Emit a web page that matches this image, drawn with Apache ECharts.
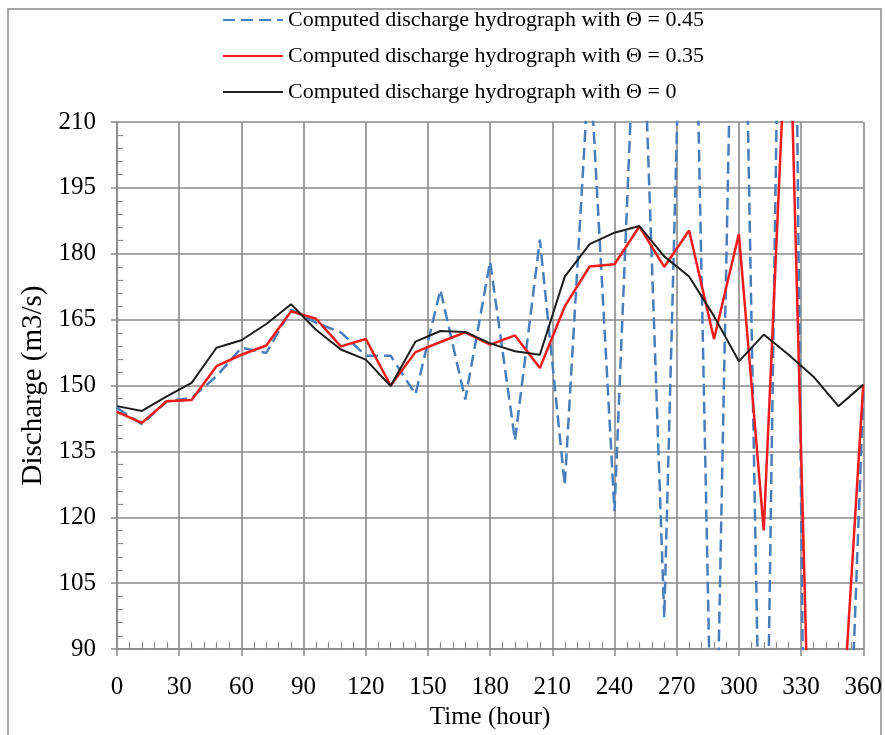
<!DOCTYPE html>
<html><head><meta charset="utf-8">
<script src="https://cdn.jsdelivr.net/npm/echarts@6/dist/echarts.min.js"></script>
<style>html,body{margin:0;padding:0;background:#fff}#c{width:885px;height:735px}</style>
</head><body><div id="c"></div>
<script>
// Time (hour)
const times = [0,12,24,36,48,60,72,84,96,108,120,132,144,156,168,180,192,204,216,228,240,252,264,276,288,300,312,324,336,348,360];
// Computed discharge, Theta = 0.45
const theta045 = [144.9,141.2,146.4,147.2,152.1,158.6,157.4,167.3,164.3,162.1,156.8,156.8,148.0,171.8,146.8,178.2,137.5,183.2,127.3,225,121.4,260,97.2,315,35,324,10,400,-150,-5,148];
// Computed discharge, Theta = 0.35
const theta035 = [144.0,141.5,146.4,146.7,154.4,157.0,159.1,166.9,165.2,158.9,160.6,150.0,157.6,159.9,162.1,159.3,161.4,154.0,168.0,177.1,177.6,186.2,177.0,185.3,160.6,184.5,117.0,245,26,58,150.2];
// Computed discharge, Theta = 0
const theta0 = [145.3,144.2,147.5,150.6,158.6,160.3,164.0,168.5,162.7,158.2,155.9,149.9,160.0,162.4,162.2,159.6,157.8,157.0,174.8,182.2,184.8,186.3,179.4,174.8,165.8,155.5,161.6,157.0,152.0,145.3,150.2];
const seriesNames = ['Computed discharge hydrograph with \u0398 = 0.45','Computed discharge hydrograph with \u0398 = 0.35','Computed discharge hydrograph with \u0398 = 0'];

const pairs = arr => times.map((t,i)=>[t,arr[i]]);
const font = 'Liberation Serif, Times New Roman, serif';
const gridColor = '#8a8a8a';

const chart = echarts.init(document.getElementById('c'), null, {renderer:'canvas'});
chart.setOption({
  animation:false,
  backgroundColor:'#fff',
  graphic:[{type:'rect', shape:{x:8,y:9,width:873,height:740}, style:{fill:'none', stroke:'#8a8a8a', lineWidth:1.5}, silent:true}],
  legend:{
    orient:'vertical', left:222, top:9, padding:0, itemGap:14,
    itemWidth:60, itemHeight:22,
    itemStyle:{opacity:0},
    textStyle:{fontFamily:font, fontSize:22, color:'#000'},
    data:seriesNames
  },
  grid:{left:117, right:19, top:122, bottom:85},
  xAxis:[{
    type:'value', position:'bottom', min:0, max:360, interval:30,
    name:'Time (hour)', nameLocation:'middle', nameGap:56,
    nameTextStyle:{fontFamily:font, fontSize:25, color:'#000'},
    axisLine:{show:true, lineStyle:{color:gridColor, width:1.5}},
    axisTick:{show:true, inside:false, length:7, lineStyle:{color:gridColor, width:1.5}},
    minorTick:{show:false},
    axisLabel:{fontFamily:font, fontSize:25, color:'#000', margin:26},
    splitLine:{show:true, lineStyle:{color:gridColor, width:1.6}}
  },{
    type:'value', position:'bottom', min:0, max:360, interval:30,
    axisLine:{show:false}, axisTick:{show:false, inside:true},
    minorTick:{show:true, splitNumber:5, length:7, lineStyle:{color:gridColor, width:1.2}},
    axisLabel:{show:false}, splitLine:{show:false}
  }],
  yAxis:[{
    type:'value', position:'left', min:90, max:210, interval:15,
    name:'Discharge (m3/s)', nameLocation:'middle', nameGap:68, nameRotate:90,
    nameTextStyle:{fontFamily:font, fontSize:29, color:'#000'},
    axisLine:{show:true, lineStyle:{color:gridColor, width:1.5}},
    axisTick:{show:true, inside:false, length:6, lineStyle:{color:gridColor, width:1.5}},
    minorTick:{show:false},
    axisLabel:{fontFamily:font, fontSize:25, color:'#000', margin:21},
    splitLine:{show:true, lineStyle:{color:gridColor, width:1.6}}
  },{
    type:'value', position:'left', min:90, max:210, interval:15,
    axisLine:{show:false}, axisTick:{show:false, inside:true},
    minorTick:{show:true, splitNumber:5, length:6, lineStyle:{color:gridColor, width:1.2}},
    axisLabel:{show:false}, splitLine:{show:false}
  }],
  series:[
    {name:seriesNames[0], type:'line', data:pairs(theta045), symbol:'none', clip:true,
     lineStyle:{color:'#4a7ebb', width:2.5, type:[12,6]}, itemStyle:{color:'#4a7ebb'}},
    {name:seriesNames[1], type:'line', data:pairs(theta035), symbol:'none', clip:true,
     lineStyle:{color:'#ee1c1c', width:2.5}, itemStyle:{color:'#ee1c1c'}},
    {name:seriesNames[2], type:'line', data:pairs(theta0), symbol:'none', clip:true,
     lineStyle:{color:'#1e1e1e', width:2}, itemStyle:{color:'#1e1e1e'}}
  ]
});
</script></body></html>
